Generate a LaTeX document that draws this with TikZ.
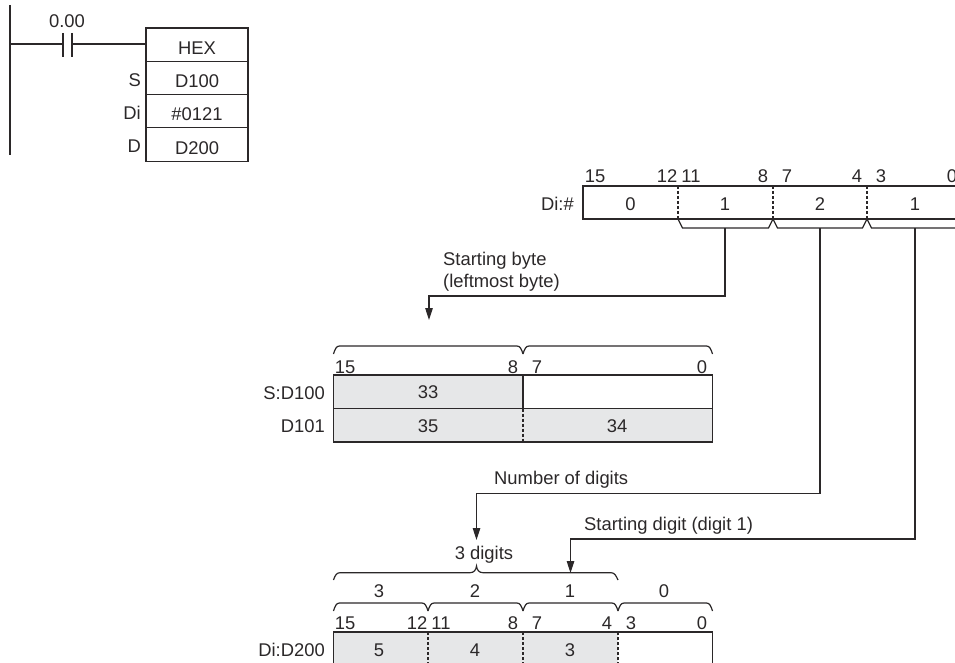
\documentclass[tikz,border=0pt]{standalone}
\usepackage{fontspec}
\setmainfont{Liberation Sans}
\usetikzlibrary{arrows.meta,calc}
\definecolor{ink}{HTML}{2B2829}
\definecolor{cellgray}{HTML}{E6E7E8}
\tikzset{
  x=1pt,y=-1pt,
  lbl/.style={inner sep=0pt,text height=13pt,text depth=0pt,text=ink,font=\fontsize{18.4}{20}\selectfont},
  lblL/.style={lbl,anchor=west},
  lblR/.style={lbl,anchor=east},
  ln/.style={draw=ink,line width=1.1pt},
  cellbox/.style={ln,fill=white,minimum width=102pt,minimum height=33.3pt,inner sep=0pt,text height=19pt,text depth=0pt,text=ink,font=\fontsize{18.4}{20}\selectfont},
  div/.style={draw=ink,line width=1.2pt,dash pattern=on 3pt off 2pt},
  brk/.style={draw=ink,line width=1.2pt},
  leader/.style={draw=ink,line width=1.1pt},
  arr/.style={leader,-{Triangle[length=12pt,width=7.5pt]}}
}
% downward-opening curly segment: x1, x2, y of flat part
\newcommand{\topbrk}[3]{\draw[brk] (#1,#3+8) .. controls (#1+1.5,#3+3) and (#1+3,#3) .. (#1+6,#3) -- (#2-6,#3) .. controls (#2-3,#3) and (#2-1.5,#3+3) .. (#2,#3+8);}
\newcommand{\lowbrk}[3]{\draw[brk] (#1,#3-9) -- (#1+4.5,#3) -- (#2-4.5,#3) -- (#2,#3-9);}
\begin{document}
\begin{tikzpicture}
\useasboundingbox (0,0) rectangle (955,663);
% ladder
\coordinate (busT) at (10,5);
\coordinate (busB) at (10,155);
\draw[ln] (busT) -- (busB);
\node[cellbox] (hex) at (197,44.7) {HEX};
\node[cellbox] (src) at (197,78) {D100};
\node[cellbox] (dig) at (197,111.3) {\#0121};
\node[cellbox] (dst) at (197,144.6) {D200};
\coordinate (busR) at (10,44);
\coordinate (cL) at (63,44);
\coordinate (cR) at (72,44);
\draw[ln] (busR) -- (cL);
\draw[ln] (cR) -- (hex.west |- cR);
\draw[ln] (63,33) -- (63,57);
\draw[ln] (72,33) -- (72,57);
\node[lbl] (cname) at (67,21) {0.00};
\node[lblR] (ls) at (141,80) {S};
\node[lblR] (ldi) at (141,113) {Di};
\node[lblR] (ld) at (141,146) {D};

% Di:# word
\node[lblR] (diw) at (574,204) {Di:\#};
\draw[ln] (955,186) -- (583,186) -- (583,219) -- (955,219);
\foreach \x in {678,773,867} \draw[div] (\x,186) -- (\x,219);
\foreach \x/\t/\n in {630.5/0/a,725/1/b,820/2/c,915/1/d} \node[lbl] (dw\n) at (\x,204) {\t};
\foreach \x/\t/\n in {595/15/a,667/12/b,691/11/c,763/8/d,787/7/e,857/4/f,881/3/g,952/0/h} \node[lbl] (dn\n) at (\x,176) {\t};
\lowbrk{678}{773}{228}
\lowbrk{773}{867}{228}
\draw[brk] (867,219) -- (871.5,228) -- (955,228);
\coordinate (b1) at (725,228);
\coordinate (b2) at (820,228);
\coordinate (b3) at (915,228);

% Starting byte
\node[lblL] (sb1) at (443,259) {Starting byte};
\node[lblL] (sb2) at (443,281) {(leftmost byte)};
\coordinate (t1) at (429,320);
\draw[arr] (b1) |- (429,296) -- (t1);

% S words
\node[lblR] (sd) at (325,393) {S:D100};
\node[lblR] (d101) at (325,426) {D101};
\fill[cellgray] (333.5,375) rectangle (523,408.5);
\fill[cellgray] (333.5,408.5) rectangle (712.5,442);
\draw[ln] (333.5,375) rectangle (712.5,442);
\draw[ln] (333.5,408.5) -- (712.5,408.5);
\draw[ln,line width=1.5pt] (523,375) -- (523,408.5);
\draw[div] (523,408.5) -- (523,442);
\node[lbl] (s33) at (428,392) {33};
\node[lbl] (s35) at (428,426) {35};
\node[lbl] (s34) at (617,426) {34};
\foreach \x/\t/\n in {345/15/a,513/8/b,537/7/c,702/0/d} \node[lbl] (sn\n) at (\x,367) {\t};
\topbrk{333.5}{523}{346}
\topbrk{523}{712.5}{346}

% Number of digits
\node[lblL] (nd) at (494,478) {Number of digits};
\coordinate (t2) at (476.5,540);
\draw[arr] (b2) |- (476.5,493.5) -- (t2);
% Starting digit
\node[lblL] (sdg) at (584,524) {Starting digit (digit 1)};
\coordinate (t3) at (570.5,573);
\draw[arr] (b3) |- (570.5,539) -- (t3);

\node[lbl] (td) at (484,553) {3 digits};
% big brace
\draw[brk] (333.5,580) .. controls (335,575.5) and (336.5,572.7) .. (340,572.7) -- (470,572.7) .. controls (474,572.7) and (476,570) .. (476.5,566) .. controls (477,570) and (479,572.7) .. (483,572.7) -- (611,572.7) .. controls (614.5,572.7) and (616,575.5) .. (618,580);
\foreach \x/\t/\n in {379/3/a,475/2/b,570/1/c,664/0/d} \node[lbl] (pd\n) at (\x,591) {\t};
\topbrk{333.5}{428}{603}
\topbrk{428}{523}{603}
\topbrk{523}{618}{603}
\topbrk{618}{712.5}{603}
\foreach \x/\t/\n in {345/15/a,417/12/b,441/11/c,513/8/d,537/7/e,607/4/f,631/3/g,702/0/h} \node[lbl] (bn\n) at (\x,623) {\t};

% D200 word
\node[lblR] (dd) at (325,650) {Di:D200};
\fill[cellgray] (333.5,632) rectangle (618,663);
\draw[ln] (333.5,663) -- (333.5,632) -- (712.5,632) -- (712.5,663);
\foreach \x in {428,523,618} \draw[div] (\x,632) -- (\x,663);
\foreach \x/\t/\n in {379/5/a,475/4/b,570/3/c} \node[lbl] (dv\n) at (\x,650) {\t};
\end{tikzpicture}
\end{document}
